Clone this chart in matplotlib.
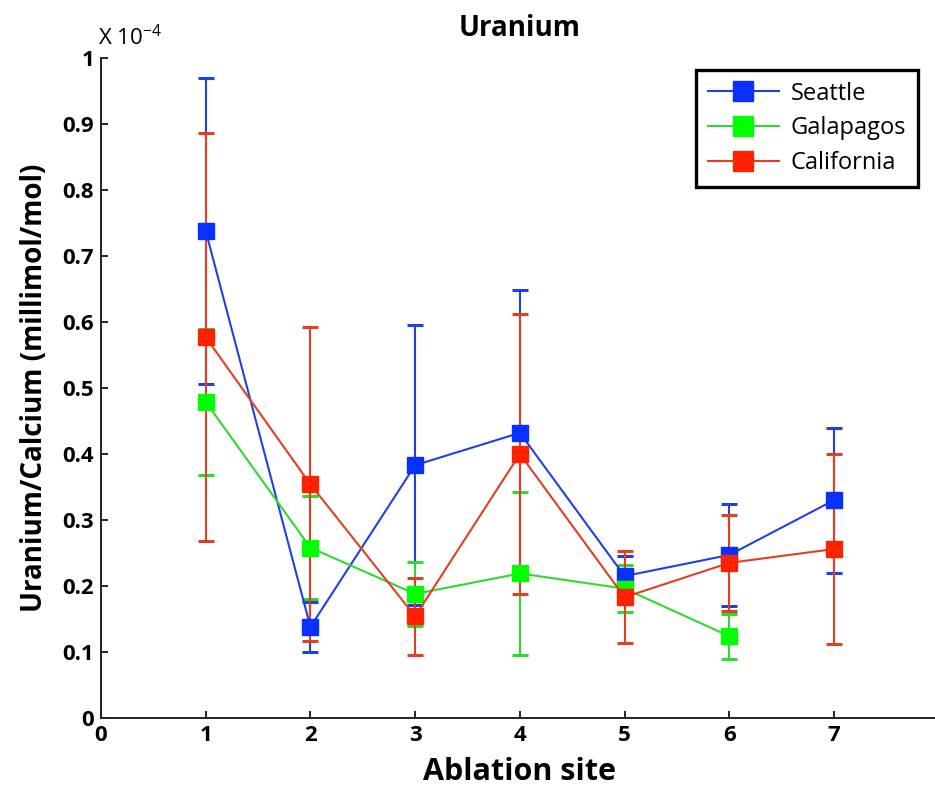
import matplotlib.pyplot as plt
import numpy as np

plt.rcParams['font.family'] = ['Open Sans', 'DejaVu Sans']

# ablation sites
sites = [1, 2, 3, 4, 5, 6, 7]
sites_gal = [1, 2, 3, 4, 5, 6]

# values in units of 1e-4 millimol/mol
seattle = [0.738, 0.138, 0.383, 0.432, 0.215, 0.247, 0.330]
seattle_err = [0.232, 0.038, 0.212, 0.216, 0.030, 0.077, 0.110]

galapagos = [0.479, 0.258, 0.188, 0.219, 0.196, 0.124]
galapagos_err = [0.111, 0.078, 0.048, 0.124, 0.036, 0.034]

california = [0.577, 0.354, 0.154, 0.400, 0.183, 0.235, 0.256]
california_err = [0.309, 0.238, 0.058, 0.212, 0.070, 0.073, 0.144]

series = [
    ('Seattle', sites, seattle, seattle_err, '#2040e0', '#0a30ff'),
    ('Galapagos', sites_gal, galapagos, galapagos_err, '#30d830', '#00ff00'),
    ('California', sites, california, california_err, '#e04022', '#ff2200'),
]

fig = plt.figure(figsize=(9.35, 7.89), dpi=100)
ax = fig.add_axes([0.108, 0.090, 0.896, 0.8365])

for name, x, y, err, lc, mc in series:
    ax.errorbar(x, y, yerr=err, color=lc, linewidth=1.5, elinewidth=1.5,
                capsize=6, capthick=2.2, marker='s', markersize=12,
                markerfacecolor=mc, markeredgecolor=mc, label=name)

ax.set_xlim(0, 8)
ax.set_ylim(0, 1)
ax.set_xticks(range(0, 8))
ax.set_yticks(np.arange(0, 1.01, 0.1))
ax.set_yticklabels(['0', '0.1', '0.2', '0.3', '0.4', '0.5', '0.6', '0.7', '0.8', '0.9', '1'])

for side in ['top', 'right']:
    ax.spines[side].set_visible(False)
for side in ['left', 'bottom']:
    ax.spines[side].set_linewidth(1.4)
    ax.spines[side].set_color('#222222')

ax.tick_params(direction='in', length=5, width=1.2, labelsize=16, pad=5)
for lbl in ax.get_xticklabels() + ax.get_yticklabels():
    lbl.set_fontweight('bold')

ax.set_xlabel('Ablation site', fontsize=22, fontweight='bold', labelpad=8)
ax.set_ylabel('Uranium/Calcium (millimol/mol)', fontsize=20, fontweight='bold', labelpad=10)
ax.set_title('Uranium', fontsize=20, fontweight='bold', pad=16)

fig.text(0.105, 0.936, r'X 10$^{\mathregular{-4}}$', fontsize=16, ha='left', va='bottom')

handles, labels = ax.get_legend_handles_labels()
handles = [h[0] for h in handles]
leg = ax.legend(handles, labels, loc='upper right', bbox_to_anchor=(0.975, 0.982),
                borderaxespad=0, fontsize=17, fancybox=False, framealpha=1,
                edgecolor='black', borderpad=0.5, handlelength=3.0,
                handletextpad=0.5, labelspacing=0.45, markerscale=1.2)
leg.get_frame().set_linewidth(2.4)

fig.savefig('out.png', dpi=100)
